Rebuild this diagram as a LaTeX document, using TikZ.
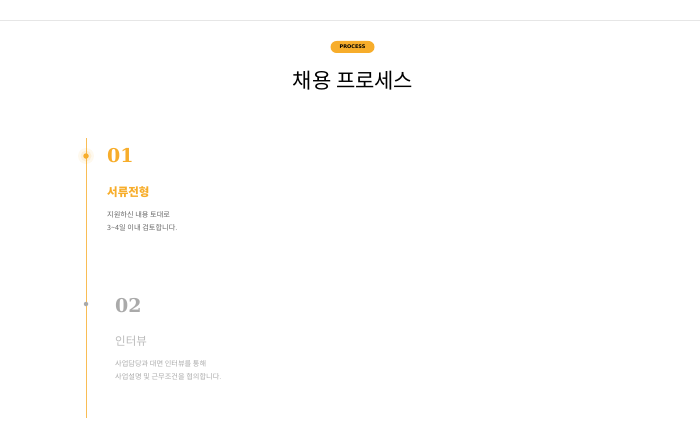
\documentclass[tikz,border=0pt]{standalone}
\usepackage{fontspec}
\setmainfont{Noto Sans CJK KR}
\newfontfamily\numfont{DejaVu Serif}
\newfontfamily\badgefont{DejaVu Sans}
\definecolor{accent}{HTML}{F7AD2B}
\definecolor{rulegray}{HTML}{E6E6E6}
\definecolor{txtgray}{HTML}{666666}
\definecolor{fadegray}{HTML}{AAAAAA}
\tikzset{
  stepnum/.style={anchor=west, inner sep=0pt, font=\numfont\bfseries\fontsize{19}{19}\selectfont},
  steptitle/.style={anchor=west, inner sep=0pt, font=\bfseries\fontsize{11.5}{12}\selectfont},
  stepdesc/.style={anchor=north west, inner sep=0pt, align=left, font=\fontsize{7.2}{13}\selectfont},
}
\begin{document}
\begin{tikzpicture}[x=1pt,y=-1pt]
            \useasboundingbox (0,0) rectangle (700,441);
            \draw[rulegray, line width=0.8pt] (0,20) -- (700,20);
            \node[fill=accent, rounded corners=6pt, minimum width=44pt, minimum height=12pt, inner sep=0pt,
                  font=\badgefont\bfseries\fontsize{5}{5}\selectfont] (badge) at (352.5,47) {PROCESS};
            \node[font=\fontsize{21}{21}\selectfont, inner sep=0pt] (title) at (353,81) {채용 프로세스};
            \coordinate (top) at (86,138);
            \coordinate (bottom) at (86,418);
            \draw[accent!80, line width=0.8pt] (top) -- (bottom);
            % step 1
            \fill[accent, opacity=0.08] (86,156) circle (8);
            \fill[accent, opacity=0.12] (86,156) circle (5.5);
            \node[circle, fill=accent, inner sep=0pt, minimum size=5.5pt] (dot1) at (86,156) {};
            \node[stepnum, text=accent] (num1) at (107,156) {01};
            \node[steptitle, text=accent] (title1) at (107,192) {서류전형};
            \node[stepdesc, text=txtgray] (desc1) at (107,211.5) {지원하신 내용 토대로\\3\textasciitilde4일 이내 검토합니다.};
            % step 2
            \node[circle, fill=fadegray, inner sep=0pt, minimum size=4.5pt] (dot2) at (86,304) {};
            \node[stepnum, text=fadegray] (num2) at (115,306) {02};
            \node[steptitle, text=fadegray!80, font=\fontsize{11.5}{12}\selectfont] (title2) at (115,341) {인터뷰};
            \node[stepdesc, text=fadegray] (desc2) at (115,360.5) {사업담당과 대면 인터뷰를 통해\\사업설명 및 근무조건을 협의합니다.};
        \end{tikzpicture}
\end{document}
